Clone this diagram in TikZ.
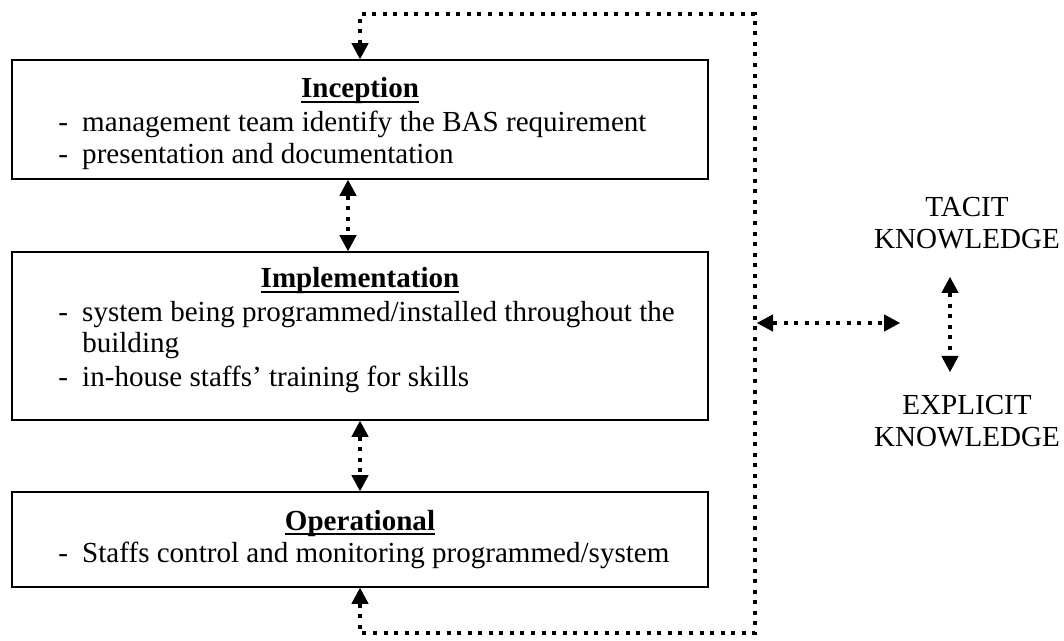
\documentclass[tikz,border=0pt]{standalone}
\usepackage{fontspec}
\setmainfont{Liberation Serif}
\usetikzlibrary{arrows.meta,fit}
\newcommand\myul[1]{\leavevmode\setbox0\hbox{#1}\rlap{\vrule width\wd0 height -2.4pt depth 3.9pt}\box0}
\newcommand\bul{\makebox[18pt][l]{-}}
\begin{document}
\begin{tikzpicture}[x=0.75pt,y=-0.75pt,
  box/.style={draw, line width=1.3pt, inner sep=0pt},
  txt/.style={inner sep=0pt, font=\fontsize{21.8}{24}\selectfont},
  ttl/.style={txt, font=\fontsize{21.8}{24}\selectfont\bfseries, anchor=base},
  item/.style={txt, anchor=base west},
  dots/.style={line width=3pt, dash pattern=on 3pt off 4.9pt,
    {Triangle[length=12pt,width=13pt,line width=0pt]}-{Triangle[length=12pt,width=13pt,line width=0pt]}},
]
\useasboundingbox (0,0) rectangle (1064,641);

\node[box, fit={(12,60) (708,179)}] (inc) {};
\node[box, fit={(12,252) (708,420)}] (imp) {};
\node[box, fit={(12,492) (708,587)}] (ope) {};

\node[ttl] (incT) at (360,98) {\myul{Inception}};
\node[item] (inc1) at (58,132) {\bul management team identify the BAS requirement};
\node[item] (inc2) at (58,164) {\bul presentation and documentation};

\node[ttl] (impT) at (360,288) {\myul{Implementation}};
\node[item] (imp1) at (58,322) {\bul system being programmed/installed throughout the};
\node[item] (imp2) at (82,353) {building};
\node[item] (imp3) at (58,387) {\bul in-house staffs’ training for skills};

\node[ttl] (opeT) at (360,530) {\myul{Operational}};
\node[item] (ope1) at (58,562) {\bul Staffs control and monitoring programmed/system};

\node[txt, align=center] (tacit) at (967,223) {TACIT\\KNOWLEDGE};
\node[txt, align=center] (explicit) at (967,421) {EXPLICIT\\KNOWLEDGE};

\coordinate (xa) at (348,0);
\coordinate (xb) at (360,0);
\draw[dots] (inc.south -| xa) -- (imp.north -| xa);
\draw[dots] (imp.south -| xb) -- (ope.north -| xb);

\coordinate (lb) at (360,633);
\coordinate (rb) at (755,633);
\coordinate (rt) at (755,14);
\coordinate (lt) at (360,14);
\draw[dots] (ope.south -| lb) -- (lb) -- (rb) -- (rt) -- (lt) -- (inc.north -| lt);

\coordinate (hl) at (757,323);
\coordinate (hr) at (900,323);
\draw[dots] (hl) -- (hr);

\coordinate (vt) at (950,277);
\coordinate (vb) at (950,372);
\draw[dots] (vt) -- (vb);
\end{tikzpicture}
\end{document}
